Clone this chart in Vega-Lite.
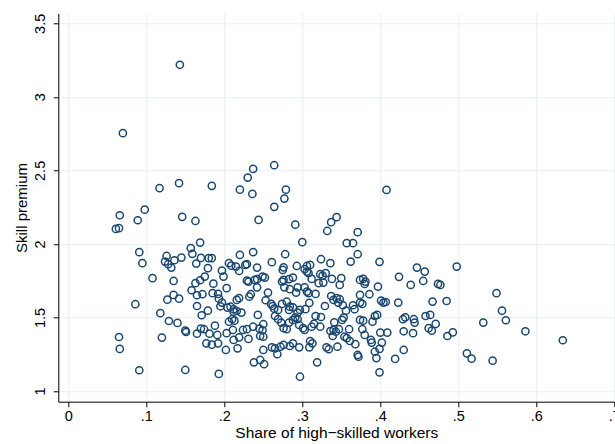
{
  "$schema": "https://vega.github.io/schema/vega-lite/v6.json",
  "width": 556,
  "height": 388.4,
  "autosize": {"type": "none"},
  "padding": {"left": 58.3, "top": 13.3, "right": 0.7, "bottom": 42.3},
  "background": "white",
  "config": {"view": {"stroke": null}, "font": "Liberation Sans"},
  "data": {"values": [
    {"share":0.143,"premium":3.218},{"share":0.070,"premium":2.753},{"share":0.117,"premium":2.379},{"share":0.142,"premium":2.413},
    {"share":0.184,"premium":2.395},{"share":0.220,"premium":2.369},{"share":0.230,"premium":2.451},{"share":0.237,"premium":2.510},
    {"share":0.264,"premium":2.535},{"share":0.236,"premium":2.340},{"share":0.279,"premium":2.369},{"share":0.277,"premium":2.308},
    {"share":0.264,"premium":2.252},{"share":0.244,"premium":2.163},{"share":0.291,"premium":2.131},{"share":0.337,"premium":2.148},
    {"share":0.344,"premium":2.182},{"share":0.408,"premium":2.367},{"share":0.066,"premium":2.195},{"share":0.098,"premium":2.233},
    {"share":0.089,"premium":2.161},{"share":0.061,"premium":2.102},{"share":0.065,"premium":2.107},{"share":0.146,"premium":2.184},
    {"share":0.163,"premium":2.156},{"share":0.091,"premium":1.944},{"share":0.086,"premium":1.590},{"share":0.065,"premium":1.367},
    {"share":0.066,"premium":1.286},{"share":0.091,"premium":1.141},{"share":0.095,"premium":1.869},{"share":0.169,"premium":2.009},
    {"share":0.157,"premium":1.971},{"share":0.159,"premium":1.932},{"share":0.126,"premium":1.918},{"share":0.124,"premium":1.880},
    {"share":0.128,"premium":1.862},{"share":0.132,"premium":1.839},{"share":0.136,"premium":1.889},{"share":0.145,"premium":1.907},
    {"share":0.170,"premium":1.905},{"share":0.164,"premium":1.866},{"share":0.180,"premium":1.903},{"share":0.184,"premium":1.903},
    {"share":0.179,"premium":1.835},{"share":0.197,"premium":1.818},{"share":0.199,"premium":1.778},{"share":0.175,"premium":1.778},
    {"share":0.169,"premium":1.753},{"share":0.163,"premium":1.733},{"share":0.108,"premium":1.767},{"share":0.135,"premium":1.748},
    {"share":0.186,"premium":1.730},{"share":0.158,"premium":1.685},{"share":0.165,"premium":1.651},{"share":0.172,"premium":1.658},
    {"share":0.185,"premium":1.665},{"share":0.192,"premium":1.660},{"share":0.135,"premium":1.653},{"share":0.127,"premium":1.621},
    {"share":0.142,"premium":1.628},{"share":0.193,"premium":1.628},{"share":0.195,"premium":1.576},{"share":0.197,"premium":1.601},
    {"share":0.165,"premium":1.578},{"share":0.179,"premium":1.546},{"share":0.171,"premium":1.515},{"share":0.118,"premium":1.529},
    {"share":0.129,"premium":1.476},{"share":0.140,"premium":1.463},{"share":0.150,"premium":1.410},{"share":0.151,"premium":1.401},
    {"share":0.170,"premium":1.424},{"share":0.174,"premium":1.420},{"share":0.165,"premium":1.390},{"share":0.181,"premium":1.390},
    {"share":0.188,"premium":1.444},{"share":0.191,"premium":1.381},{"share":0.177,"premium":1.324},{"share":0.184,"premium":1.315},
    {"share":0.192,"premium":1.324},{"share":0.120,"premium":1.363},{"share":0.150,"premium":1.143},{"share":0.193,"premium":1.116},
    {"share":0.220,"premium":1.925},{"share":0.237,"premium":1.944},{"share":0.278,"premium":1.930},{"share":0.206,"premium":1.869},
    {"share":0.209,"premium":1.852},{"share":0.215,"premium":1.846},{"share":0.219,"premium":1.816},{"share":0.227,"premium":1.857},
    {"share":0.229,"premium":1.862},{"share":0.242,"premium":1.839},{"share":0.261,"premium":1.876},{"share":0.275,"premium":1.823},
    {"share":0.276,"premium":1.841},{"share":0.293,"premium":1.850},{"share":0.229,"premium":1.750},{"share":0.231,"premium":1.744},
    {"share":0.239,"premium":1.755},{"share":0.242,"premium":1.760},{"share":0.249,"premium":1.778},{"share":0.252,"premium":1.771},
    {"share":0.242,"premium":1.705},{"share":0.203,"premium":1.699},{"share":0.256,"premium":1.669},{"share":0.274,"premium":1.744},
    {"share":0.276,"premium":1.755},{"share":0.283,"premium":1.760},{"share":0.288,"premium":1.771},{"share":0.277,"premium":1.705},
    {"share":0.284,"premium":1.692},{"share":0.294,"premium":1.705},{"share":0.292,"premium":1.669},{"share":0.216,"premium":1.619},
    {"share":0.219,"premium":1.631},{"share":0.232,"premium":1.641},{"share":0.234,"premium":1.658},{"share":0.204,"premium":1.567},
    {"share":0.208,"premium":1.573},{"share":0.212,"premium":1.556},{"share":0.212,"premium":1.539},{"share":0.216,"premium":1.544},
    {"share":0.222,"premium":1.533},{"share":0.253,"premium":1.617},{"share":0.260,"premium":1.592},{"share":0.262,"premium":1.578},
    {"share":0.264,"premium":1.560},{"share":0.269,"premium":1.551},{"share":0.274,"premium":1.592},{"share":0.280,"premium":1.607},
    {"share":0.284,"premium":1.573},{"share":0.283,"premium":1.551},{"share":0.288,"premium":1.569},{"share":0.294,"premium":1.533},
    {"share":0.297,"premium":1.551},{"share":0.243,"premium":1.517},{"share":0.206,"premium":1.471},{"share":0.210,"premium":1.488},
    {"share":0.213,"premium":1.478},{"share":0.265,"premium":1.510},{"share":0.269,"premium":1.488},{"share":0.273,"premium":1.465},
    {"share":0.288,"premium":1.483},{"share":0.291,"premium":1.501},{"share":0.294,"premium":1.488},{"share":0.296,"premium":1.449},
    {"share":0.276,"premium":1.427},{"share":0.280,"premium":1.420},{"share":0.283,"premium":1.465},{"share":0.237,"premium":1.437},
    {"share":0.245,"premium":1.424},{"share":0.249,"premium":1.413},{"share":0.250,"premium":1.454},{"share":0.224,"premium":1.415},
    {"share":0.229,"premium":1.420},{"share":0.211,"premium":1.415},{"share":0.203,"premium":1.393},{"share":0.219,"premium":1.365},
    {"share":0.231,"premium":1.354},{"share":0.212,"premium":1.347},{"share":0.250,"premium":1.369},{"share":0.246,"premium":1.374},
    {"share":0.265,"premium":1.290},{"share":0.261,"premium":1.297},{"share":0.272,"premium":1.301},{"share":0.276,"premium":1.313},
    {"share":0.284,"premium":1.306},{"share":0.288,"premium":1.324},{"share":0.296,"premium":1.297},{"share":0.250,"premium":1.279},
    {"share":0.268,"premium":1.250},{"share":0.202,"premium":1.279},{"share":0.217,"premium":1.290},{"share":0.238,"premium":1.195},
    {"share":0.246,"premium":1.211},{"share":0.251,"premium":1.182},{"share":0.297,"premium":1.097},{"share":0.332,"premium":2.088},
    {"share":0.371,"premium":2.080},{"share":0.357,"premium":2.005},{"share":0.365,"premium":2.005},{"share":0.300,"premium":2.012},
    {"share":0.371,"premium":1.930},{"share":0.362,"premium":1.880},{"share":0.399,"premium":1.878},{"share":0.324,"premium":1.896},
    {"share":0.336,"premium":1.869},{"share":0.306,"premium":1.850},{"share":0.310,"premium":1.857},{"share":0.303,"premium":1.828},
    {"share":0.306,"premium":1.812},{"share":0.308,"premium":1.801},{"share":0.312,"premium":1.762},{"share":0.323,"premium":1.794},
    {"share":0.326,"premium":1.784},{"share":0.330,"premium":1.801},{"share":0.321,"premium":1.733},{"share":0.327,"premium":1.737},
    {"share":0.338,"premium":1.762},{"share":0.350,"premium":1.767},{"share":0.348,"premium":1.721},{"share":0.374,"premium":1.755},
    {"share":0.378,"premium":1.762},{"share":0.381,"premium":1.744},{"share":0.380,"premium":1.728},{"share":0.303,"premium":1.705},
    {"share":0.306,"premium":1.676},{"share":0.308,"premium":1.665},{"share":0.317,"premium":1.660},{"share":0.397,"premium":1.710},
    {"share":0.337,"premium":1.646},{"share":0.374,"premium":1.653},{"share":0.386,"premium":1.658},{"share":0.340,"premium":1.619},
    {"share":0.344,"premium":1.631},{"share":0.348,"premium":1.624},{"share":0.346,"premium":1.601},{"share":0.352,"premium":1.583},
    {"share":0.356,"premium":1.546},{"share":0.365,"premium":1.583},{"share":0.367,"premium":1.556},{"share":0.374,"premium":1.601},
    {"share":0.377,"premium":1.592},{"share":0.401,"premium":1.614},{"share":0.404,"premium":1.601},{"share":0.407,"premium":1.605},
    {"share":0.309,"premium":1.599},{"share":0.304,"premium":1.556},{"share":0.329,"premium":1.578},{"share":0.317,"premium":1.510},
    {"share":0.324,"premium":1.503},{"share":0.341,"premium":1.467},{"share":0.351,"premium":1.483},{"share":0.353,"premium":1.499},
    {"share":0.374,"premium":1.483},{"share":0.378,"premium":1.478},{"share":0.390,"premium":1.471},{"share":0.393,"premium":1.510},
    {"share":0.396,"premium":1.517},{"share":0.301,"premium":1.427},{"share":0.303,"premium":1.415},{"share":0.312,"premium":1.437},
    {"share":0.315,"premium":1.456},{"share":0.323,"premium":1.437},{"share":0.336,"premium":1.408},{"share":0.340,"premium":1.415},
    {"share":0.343,"premium":1.403},{"share":0.347,"premium":1.420},{"share":0.339,"premium":1.374},{"share":0.360,"premium":1.420},
    {"share":0.354,"premium":1.369},{"share":0.357,"premium":1.359},{"share":0.361,"premium":1.340},{"share":0.368,"premium":1.318},
    {"share":0.377,"premium":1.420},{"share":0.380,"premium":1.381},{"share":0.388,"premium":1.347},{"share":0.389,"premium":1.329},
    {"share":0.400,"premium":1.397},{"share":0.409,"premium":1.397},{"share":0.310,"premium":1.340},{"share":0.313,"premium":1.324},
    {"share":0.309,"premium":1.297},{"share":0.331,"premium":1.297},{"share":0.334,"premium":1.284},{"share":0.345,"premium":1.301},
    {"share":0.371,"premium":1.245},{"share":0.372,"premium":1.233},{"share":0.393,"premium":1.267},{"share":0.399,"premium":1.286},
    {"share":0.395,"premium":1.224},{"share":0.319,"premium":1.195},{"share":0.399,"premium":1.127},{"share":0.447,"premium":1.839},
    {"share":0.457,"premium":1.812},{"share":0.498,"premium":1.846},{"share":0.424,"premium":1.776},{"share":0.439,"premium":1.721},
    {"share":0.455,"premium":1.748},{"share":0.474,"premium":1.728},{"share":0.477,"premium":1.721},{"share":0.423,"premium":1.601},
    {"share":0.467,"premium":1.608},{"share":0.485,"premium":1.612},{"share":0.429,"premium":1.488},{"share":0.432,"premium":1.501},
    {"share":0.443,"premium":1.488},{"share":0.444,"premium":1.465},{"share":0.458,"premium":1.510},{"share":0.464,"premium":1.517},
    {"share":0.462,"premium":1.427},{"share":0.466,"premium":1.410},{"share":0.471,"premium":1.456},{"share":0.430,"premium":1.406},
    {"share":0.442,"premium":1.393},{"share":0.402,"premium":1.329},{"share":0.486,"premium":1.374},{"share":0.493,"premium":1.399},
    {"share":0.430,"premium":1.279},{"share":0.419,"premium":1.218},{"share":0.549,"premium":1.665},{"share":0.556,"premium":1.546},
    {"share":0.561,"premium":1.481},{"share":0.532,"premium":1.465},{"share":0.586,"premium":1.406},{"share":0.634,"premium":1.345},
    {"share":0.511,"premium":1.256},{"share":0.517,"premium":1.220},{"share":0.544,"premium":1.206}
  ]},
  "mark": {"type": "point", "shape": "circle", "filled": false, "stroke": "#1a476f", "strokeWidth": 1.5, "size": 52, "opacity": 1},
  "encoding": {
    "x": {
      "field": "share", "type": "quantitative",
      "scale": {"domain": [-0.01282, 0.7], "nice": false, "zero": false},
      "axis": {
        "values": [0, 0.1, 0.2, 0.3, 0.4, 0.5, 0.6, 0.7],
        "labelExpr": "replace('' + datum.value, '0.', '.')",
        "title": "Share of high\u2212skilled workers",
        "grid": true, "gridColor": "#e6eef1", "gridWidth": 1,
        "domainColor": "#000000", "domainWidth": 1,
        "tickColor": "#000000", "tickSize": 5, "tickWidth": 1,
        "labelFont": "Liberation Sans", "labelFontSize": 14.5, "labelColor": "#000000", "labelPadding": 3, "labelFlush": false, "labelOverlap": false,
        "titleFont": "Liberation Sans", "titleFontSize": 15.5, "titleFontWeight": "normal", "titleColor": "#000000", "titlePadding": 2
      }
    },
    "y": {
      "field": "premium", "type": "quantitative",
      "scale": {"domain": [0.9272, 3.568], "nice": false, "zero": false},
      "axis": {
        "values": [1, 1.5, 2, 2.5, 3, 3.5],
        "labelExpr": "'' + datum.value",
        "labelAngle": -90,
        "title": "Skill premium",
        "grid": true, "gridColor": "#e6eef1", "gridWidth": 1,
        "domainColor": "#000000", "domainWidth": 1,
        "tickColor": "#000000", "tickSize": 5, "tickWidth": 1,
        "labelFont": "Liberation Sans", "labelFontSize": 14.5, "labelColor": "#000000", "labelPadding": 6, "labelOverlap": false,
        "titleFont": "Liberation Sans", "titleFontSize": 15, "titleFontWeight": "normal", "titleColor": "#000000", "titlePadding": 3
      }
    }
  }
}
